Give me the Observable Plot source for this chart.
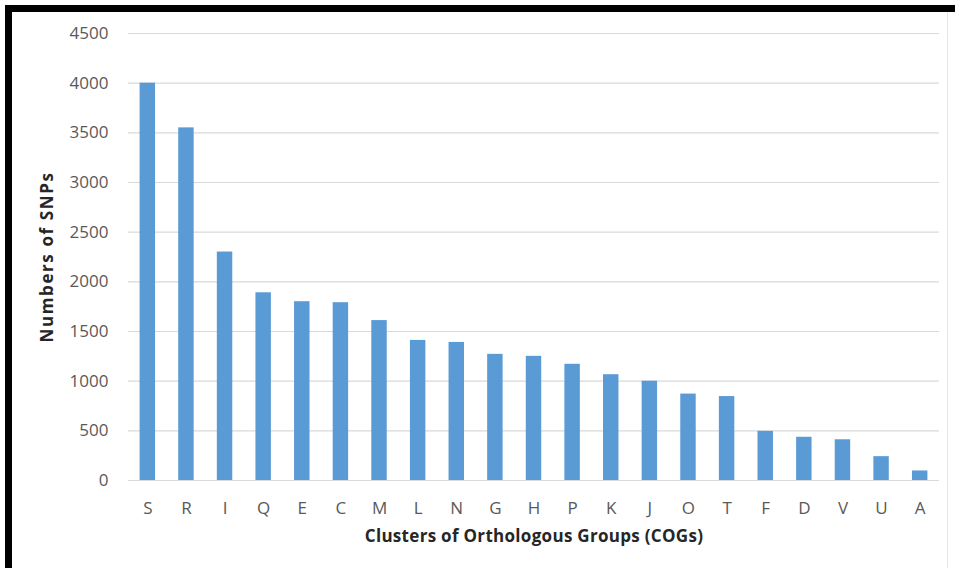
<!DOCTYPE html>
<html>
<head>
<meta charset="utf-8">
<script src="https://cdn.jsdelivr.net/npm/d3@7"></script>
<script src="https://cdn.jsdelivr.net/npm/@observablehq/plot@0.6"></script>
<style>
  html, body { margin: 0; padding: 0; background: #fff; }
  #wrap { position: relative; width: 955px; height: 568px; overflow: hidden; background: #fff; }
  .bt { position: absolute; left: 5px; top: 5px; width: 950px; height: 7px; background: #000; }
  .bl { position: absolute; left: 5px; top: 5px; width: 7px; height: 563px; background: #000; }
  .br { position: absolute; left: 947px; top: 12px; width: 1px; height: 556px; background: #e6e6e6; }
  #chart { position: absolute; left: 0; top: 0; }
  .ytitle text { letter-spacing: 1.6px; }
  .xtitle text { letter-spacing: 0.3px; }
</style>
</head>
<body>
<div id="wrap">
  <div id="chart"></div>
  <div class="bt"></div>
  <div class="bl"></div>
  <div class="br"></div>
</div>
<script>
const categories = ["S","R","I","Q","E","C","M","L","N","G","H","P","K","J","O","T","F","D","V","U","A"];
const snps = [4000,3550,2300,1890,1800,1790,1610,1410,1390,1270,1250,1170,1065,1000,870,845,495,435,410,240,96];
const yTicks = [0,500,1000,1500,2000,2500,3000,3500,4000,4500];

const data = categories.map((c, i) => ({cog: c, n: snps[i]}));

const chart = Plot.plot({
  width: 955,
  height: 568,
  marginLeft: 128,
  marginRight: 16,
  marginTop: 33,
  marginBottom: 88,
  style: {fontFamily: "'Open Sans', sans-serif", background: "transparent", overflow: "visible"},
  x: {domain: categories, paddingInner: 0.6, paddingOuter: 0.3, round: false, label: null},
  y: {domain: [0, 4500], ticks: yTicks, label: null},
  marks: [
    Plot.ruleY(yTicks, {stroke: "#d9d9d9", strokeWidth: 1.2}),
    Plot.barY(data, {x: "cog", y: "n", fill: "#5b9bd5"}),
    Plot.axisY({ticks: yTicks, tickSize: 0, tickPadding: 20, tickFormat: d => String(d), fontSize: 17, fill: "#595959", label: null}),
    Plot.axisX({tickSize: 0, tickPadding: 21, fontSize: 17, fill: "#595959", label: null}),
    Plot.text(["Numbers of SNPs"], {frameAnchor: "left", textAnchor: "middle", dx: -81, rotate: -90, fontSize: 17, fontWeight: "bold", fill: "#262626", className: "ytitle"}),
    Plot.text(["Clusters of Orthologous Groups (COGs)"], {frameAnchor: "bottom", dy: 61, fontSize: 17, fontWeight: "bold", fill: "#262626", className: "xtitle"})
  ]
});
document.getElementById("chart").appendChild(chart);
</script>
</body>
</html>
